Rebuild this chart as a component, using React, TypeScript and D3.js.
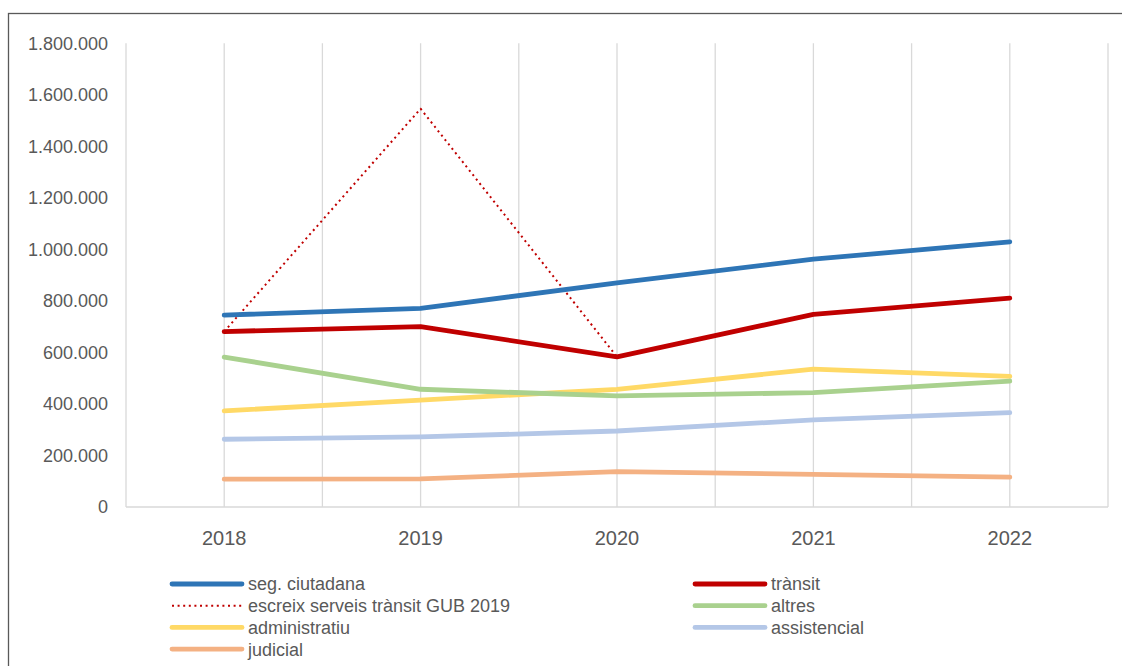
import * as React from 'react'
import * as d3 from 'd3'

const years = ['2018', '2019', '2020', '2021', '2022']
const segCiutadana = [745000, 771000, 870000, 962000, 1029000]
const transit = [681000, 700000, 583000, 748000, 811000]
const escreix: (number | null)[] = [681000, 1546000, 583000, null, null]
const altres = [582000, 457000, 431000, 444000, 489000]
const administratiu = [373000, 415000, 457000, 535000, 507000]
const assistencial = [263000, 272000, 295000, 338000, 366000]
const judicial = [108000, 109000, 137000, 127000, 116000]
const yTicks = [0, 200000, 400000, 600000, 800000, 1000000, 1200000, 1400000, 1600000, 1800000]

interface ISeries {
	name: string
	values: (number | null)[]
	color: string
	dotted?: boolean
}

// drawing order: back to front
const series: ISeries[] = [
	{ name: 'judicial', values: judicial, color: '#f4b183' },
	{ name: 'assistencial', values: assistencial, color: '#b4c7e7' },
	{ name: 'administratiu', values: administratiu, color: '#ffd966' },
	{ name: 'altres', values: altres, color: '#a9d18e' },
	{ name: 'escreix serveis trànsit GUB 2019', values: escreix, color: '#c00000', dotted: true },
	{ name: 'trànsit', values: transit, color: '#c00000' },
	{ name: 'seg. ciutadana', values: segCiutadana, color: '#2e75b6' },
]

const legendOrder = [
	'seg. ciutadana', 'trànsit',
	'escreix serveis trànsit GUB 2019', 'altres',
	'administratiu', 'assistencial',
	'judicial',
]

const fmt = (v: number) => d3.format(',')(v).replace(/,/g, '.')

const App: React.FC = () => {
	const dims = { left: 126, right: 1108, top: 43.3, bottom: 507 }

	const x = d3.scaleBand().domain(years).range([dims.left, dims.right])
	const y = d3.scaleLinear().domain([0, 1800000]).range([dims.bottom, dims.top])
	const cx = (d: string) => x(d)! + x.bandwidth() / 2

	const line = d3.line<number | null>()
		.defined(d => d !== null)
		.x((_, i) => cx(years[i]))
		.y(d => y(d as number))

	// gridlines at band edges and at category centres
	const gridX: number[] = []
	years.forEach(yr => { gridX.push(x(yr)!); gridX.push(cx(yr)) })
	gridX.push(dims.right)

	const font = '"Liberation Sans", Arial, sans-serif'
	const textColor = '#595959'

	return (
		<svg width={1122} height={666} style={{ position: 'absolute', left: 0, top: 0, background: '#fff' }}>
			<rect x={8.5} y={13.5} width={1200} height={700} fill='#fff' stroke='#595959' strokeWidth={1.3} />

			{gridX.map((gx, i) => (
				<line key={'g' + i} x1={gx} x2={gx} y1={dims.top} y2={dims.bottom} stroke='#d9d9d9' strokeWidth={1.3} />
			))}
			<line x1={dims.left} x2={dims.right} y1={dims.bottom} y2={dims.bottom} stroke='#d9d9d9' strokeWidth={1.3} />

			{yTicks.map(t => (
				<text key={'y' + t} x={108} y={y(t)} dy='0.36em' textAnchor='end'
					fontFamily={font} fontSize={18} fill={textColor}>{fmt(t)}</text>
			))}
			{years.map(yr => (
				<text key={'x' + yr} x={cx(yr)} y={545} textAnchor='middle'
					fontFamily={font} fontSize={20} fill={textColor}>{yr}</text>
			))}

			{series.map(s => (
				<path key={s.name} d={line(s.values) || ''} fill='none' stroke={s.color}
					strokeWidth={s.dotted ? 2 : 4.8}
					strokeDasharray={s.dotted ? '2 3.6' : undefined}
					strokeLinecap={s.dotted ? 'butt' : 'round'} strokeLinejoin='round' />
			))}

			{legendOrder.map((name, i) => {
				const s = series.find(d => d.name === name)!
				const col = i % 2
				const row = Math.floor(i / 2)
				const lx = col === 0 ? 172 : 695
				const ly = 584 + row * 21.7
				return (
					<g key={'l' + name}>
						<line x1={lx} x2={lx + 70} y1={ly} y2={ly} stroke={s.color}
							strokeWidth={s.dotted ? 2 : 4.8}
							strokeDasharray={s.dotted ? '2 3.6' : undefined}
							strokeLinecap={s.dotted ? 'butt' : 'round'} />
						<text x={lx + 76} y={ly} dy='0.36em' fontFamily={font} fontSize={18} fill={textColor}>{name}</text>
					</g>
				)
			})}
		</svg>
	)
}

export default App
